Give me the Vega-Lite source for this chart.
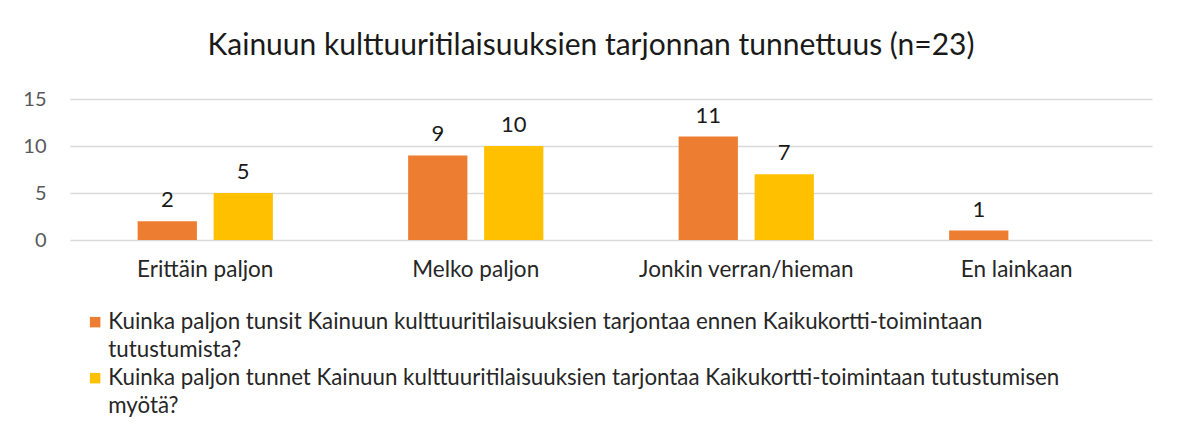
{
  "$schema": "https://vega.github.io/schema/vega-lite/v6.json",
  "width": 1082,
  "height": 141,
  "autosize": {"type": "none"},
  "padding": {"left": 70, "top": 99, "right": 25, "bottom": 185},
  "background": "white",
  "title": {
    "text": "Kainuun kulttuuritilaisuuksien tarjonnan tunnettuus (n=23)",
    "font": "Lato",
    "fontSize": 30,
    "fontWeight": "normal",
    "color": "#1a1a1a",
    "anchor": "middle",
    "frame": "group",
    "dx": -20,
    "offset": 28
  },
  "data": {
    "values": [
      {"category": "Erittäin paljon", "series": "Kuinka paljon tunsit Kainuun kulttuuritilaisuuksien tarjontaa ennen Kaikukortti-toimintaan tutustumista?", "value": 2},
      {"category": "Erittäin paljon", "series": "Kuinka paljon tunnet Kainuun kulttuuritilaisuuksien tarjontaa Kaikukortti-toimintaan tutustumisen myötä?", "value": 5},
      {"category": "Melko paljon", "series": "Kuinka paljon tunsit Kainuun kulttuuritilaisuuksien tarjontaa ennen Kaikukortti-toimintaan tutustumista?", "value": 9},
      {"category": "Melko paljon", "series": "Kuinka paljon tunnet Kainuun kulttuuritilaisuuksien tarjontaa Kaikukortti-toimintaan tutustumisen myötä?", "value": 10},
      {"category": "Jonkin verran/hieman", "series": "Kuinka paljon tunsit Kainuun kulttuuritilaisuuksien tarjontaa ennen Kaikukortti-toimintaan tutustumista?", "value": 11},
      {"category": "Jonkin verran/hieman", "series": "Kuinka paljon tunnet Kainuun kulttuuritilaisuuksien tarjontaa Kaikukortti-toimintaan tutustumisen myötä?", "value": 7},
      {"category": "En lainkaan", "series": "Kuinka paljon tunsit Kainuun kulttuuritilaisuuksien tarjontaa ennen Kaikukortti-toimintaan tutustumista?", "value": 1}
    ]
  },
  "encoding": {
    "x": {
      "field": "category",
      "type": "nominal",
      "sort": ["Erittäin paljon", "Melko paljon", "Jonkin verran/hieman", "En lainkaan"],
      "scale": {"paddingInner": 0.5, "paddingOuter": 0.25},
      "axis": {
        "title": null,
        "labelAngle": 0,
        "domain": false,
        "ticks": false,
        "labelPadding": 18,
        "labelLimit": 400,
        "labelFont": "Lato",
        "labelFontSize": 22.5,
        "labelColor": "#262626"
      }
    },
    "xOffset": {
      "field": "series",
      "type": "nominal",
      "sort": ["Kuinka paljon tunsit Kainuun kulttuuritilaisuuksien tarjontaa ennen Kaikukortti-toimintaan tutustumista?", "Kuinka paljon tunnet Kainuun kulttuuritilaisuuksien tarjontaa Kaikukortti-toimintaan tutustumisen myötä?"],
      "scale": {"paddingInner": 0.22, "paddingOuter": 0}
    },
    "y": {
      "field": "value",
      "type": "quantitative",
      "scale": {"domain": [0, 15]},
      "axis": {
        "title": null,
        "values": [0, 5, 10, 15],
        "domain": false,
        "ticks": false,
        "labelPadding": 24,
        "labelFont": "Lato",
        "labelFontSize": 20,
        "labelColor": "#595959",
        "gridColor": "#d9d9d9",
        "gridWidth": 1.5
      }
    }
  },
  "layer": [
    {
      "mark": {"type": "bar"},
      "encoding": {
        "color": {
          "field": "series",
          "type": "nominal",
          "scale": {
            "domain": ["Kuinka paljon tunsit Kainuun kulttuuritilaisuuksien tarjontaa ennen Kaikukortti-toimintaan tutustumista?", "Kuinka paljon tunnet Kainuun kulttuuritilaisuuksien tarjontaa Kaikukortti-toimintaan tutustumisen myötä?"],
            "range": ["#ED7D31", "#FFC000"]
          },
          "legend": {
            "title": null,
            "orient": "none",
            "legendX": 14,
            "legendY": 212,
            "direction": "vertical",
            "symbolType": "square",
            "symbolSize": 110,
            "symbolStrokeWidth": 0,
            "labelFont": "Lato",
            "labelFontSize": 22.3,
            "labelColor": "#262626",
            "labelLimit": 1200,
            "labelOffset": 2,
            "rowPadding": 5,
            "labelExpr": "datum.label == 'Kuinka paljon tunsit Kainuun kulttuuritilaisuuksien tarjontaa ennen Kaikukortti-toimintaan tutustumista?' ? ['Kuinka paljon tunsit Kainuun kulttuuritilaisuuksien tarjontaa ennen Kaikukortti-toimintaan', 'tutustumista?'] : ['Kuinka paljon tunnet Kainuun kulttuuritilaisuuksien tarjontaa Kaikukortti-toimintaan tutustumisen', 'myötä?']",
            "encode": {"labels": {"enter": {"lineHeight": {"value": 28}}, "update": {"lineHeight": {"value": 28}}}}
          }
        }
      }
    },
    {
      "mark": {"type": "text", "baseline": "alphabetic", "dy": -14, "font": "Lato", "fontSize": 22, "color": "#1a1a1a"},
      "encoding": {"text": {"field": "value", "type": "quantitative"}}
    }
  ],
  "config": {
    "view": {"stroke": null}
  }
}
